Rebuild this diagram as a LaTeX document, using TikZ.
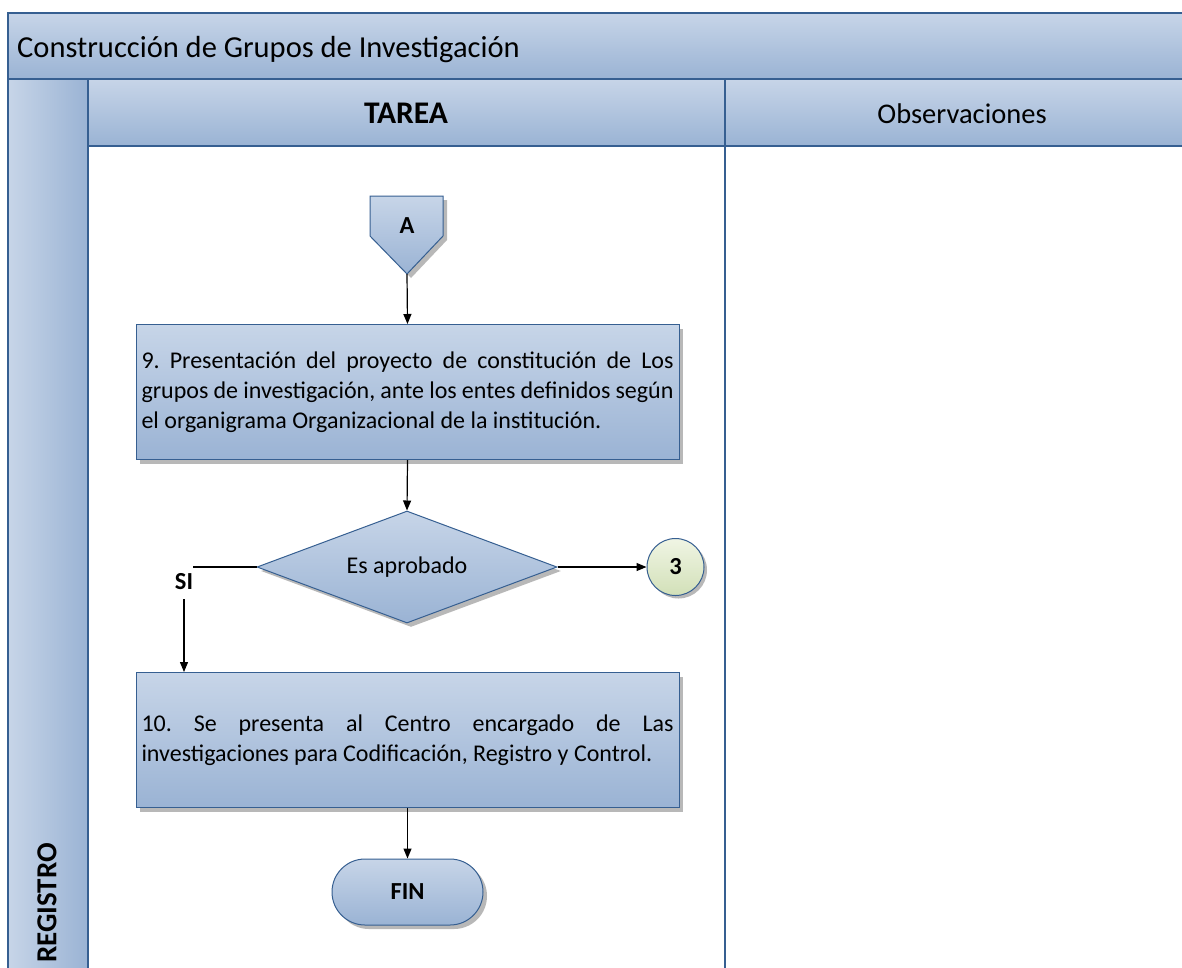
\documentclass[tikz,border=0pt]{standalone}
\usepackage{fontspec}
\setmainfont{Carlito}
\usetikzlibrary{shapes.geometric,shapes.misc,arrows.meta,shadows}
\definecolor{lineblue}{RGB}{54,95,145}
\definecolor{shtop}{RGB}{199,213,232}
\definecolor{shbot}{RGB}{154,179,212}
\definecolor{gtop}{RGB}{240,245,228}
\definecolor{gbot}{RGB}{210,224,184}
\newcommand\myBody{\fontsize{24}{30}\selectfont\frenchspacing\hyphenpenalty=10000\exhyphenpenalty=10000}
\newcommand\myBold{\fontsize{24.5}{30}\selectfont\bfseries}
\newcommand\myTitle{\fontsize{30.5}{36}\selectfont}
\newcommand\myHead{\fontsize{28.5}{34}\selectfont}
\begin{document}
\begin{tikzpicture}[x=1pt,y=-1pt,
  frame/.style={draw=lineblue, line width=1.7pt},
  band/.style={frame, top color=shtop, bottom color=shbot},
  shp/.style={draw=lineblue, line width=1pt, top color=shtop, bottom color=shbot,
    drop shadow={shadow xshift=4pt, shadow yshift=-4pt, fill=black!55, opacity=.5}},
  taskbox/.style={shp, rectangle, minimum width=543pt, minimum height=135pt,
    text width=532pt, align=justify, inner sep=0pt, font=\myBody},
  arr/.style={draw=black, line width=1.2pt, -{Triangle[length=10pt,width=8pt]}},
  plain/.style={draw=black, line width=1.2pt}
]
\clip (0,0) rectangle (1182,967);
\fill[white] (0,0) rectangle (1182,967);

% frame
\path[band] (8,13) rectangle (1200,79);
\path[band] (88,79) rectangle (1200,146);
\path[frame, left color=shtop, right color=shbot] (8,79) rectangle (88,1000);
\draw[frame] (725,79) -- (725,1000);

\node[anchor=base west, inner sep=0pt, font=\myTitle] (title) at (17,57) {Construcción de Grupos de Investigación};
\node[anchor=base, inner sep=0pt, font=\fontsize{31.5}{36}\selectfont\bfseries] (tarea) at (406,123) {TAREA};
\node[anchor=base, inner sep=0pt, font=\myHead] (obs) at (962,123) {Observaciones};
\node[rotate=90, anchor=east, inner sep=0pt, font=\fontsize{29}{32}\selectfont\bfseries] (reg) at (47,843) {REGISTRO};

% off-page connector A
\path[shp] (370,196) -- (443,196) -- (443,236) -- (407,274) -- (370,236) -- cycle;
\node[font=\myBold, inner sep=0pt] (A) at (407,226) {A};
\coordinate (Atip) at (407,274);

% task 9
\node[taskbox] (t9) at (407.5,392) {9. Presentación del proyecto de constitución de Los\linebreak grupos de investigación, ante los entes definidos según\linebreak el organigrama Organizacional de la institución.};

% decision
\node[shp, diamond, aspect=2.7, minimum width=300pt, minimum height=112pt, inner sep=0pt, font=\myBody] (dec) at (407,567) {Es aprobado\vphantom{Ep}};

% connector 3
\node[draw=lineblue, line width=1pt, circle, minimum size=57pt, inner sep=0pt,
  top color=gtop, bottom color=gbot,
  drop shadow={shadow xshift=3pt, shadow yshift=-3pt, fill=black!55, opacity=.5},
  font=\myBold] (c3) at (675.5,567) {3};

% SI
\node[font=\myBold, inner sep=0pt] (si) at (184,582) {SI};

% task 10
\node[taskbox] (t10) at (407.5,740) {10. Se presenta al Centro encargado de Las\linebreak investigaciones para Codificación, Registro y Control.};

% FIN
\node[shp, rounded rectangle, minimum width=151pt, minimum height=66pt, inner sep=0pt, font=\myBold] (fin) at (407.5,892) {FIN};

% connectors
\draw[arr] (Atip) -- (t9.north);
\draw[arr] (t9.south) -- (dec.north);
\draw[arr] (dec.east) -- (c3.west);
\draw[plain] (dec.west) -- (dec.west -| si.east);
\draw[arr] ([yshift=-9pt]si.south) -- (si.south |- t10.north);
\draw[arr] (t10.south) -- (fin.north);
\end{tikzpicture}
\end{document}
